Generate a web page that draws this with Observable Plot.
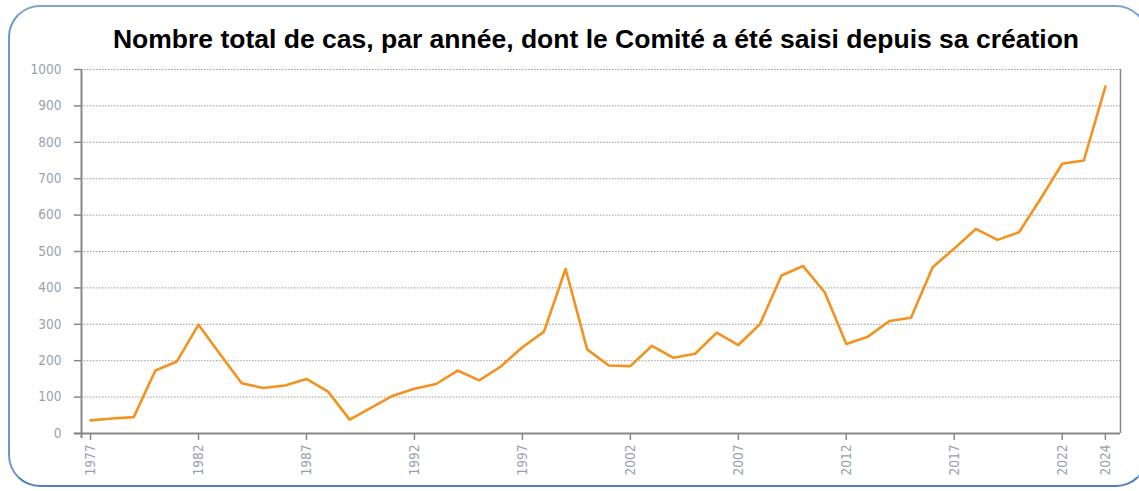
<!DOCTYPE html>
<html>
<head>
<meta charset="utf-8">
<script src="https://cdn.jsdelivr.net/npm/d3@7"></script>
<script src="https://cdn.jsdelivr.net/npm/@observablehq/plot@0.6"></script>
<style>
  html, body { margin: 0; padding: 0; background: #fff; }
  body { width: 1139px; height: 491px; overflow: hidden; position: relative; }
  #frame {
    position: absolute; left: 8px; top: 5px; width: 1140px; height: 482px;
    border: 2px solid #7fa3d0; border-radius: 32px; box-sizing: border-box;
    border-bottom-color: #4f7fbf; border-left-color: #6f96c8;
  }
  #title {
    position: absolute; left: 73px; width: 1046px; top: 26px;
    text-align: center; font-family: "Liberation Sans", Arial, sans-serif;
    font-weight: bold; font-size: 26.5px; line-height: 26.5px; color: #000;
    white-space: nowrap;
  }
  #chart { position: absolute; left: 0; top: 55px; }
</style>
</head>
<body>
<div id="frame"></div>
<div id="title">Nombre total de cas, par année, dont le Comité a été saisi depuis sa création</div>
<div id="chart"></div>
<script>
const years = [1977,1978,1979,1980,1981,1982,1983,1984,1985,1986,1987,1988,1989,1990,1991,1992,1993,1994,1995,1996,1997,1998,1999,2000,2001,2002,2003,2004,2005,2006,2007,2008,2009,2010,2011,2012,2013,2014,2015,2016,2017,2018,2019,2020,2021,2022,2023,2024];
const cases = [36,41,45,173,198,299,218,138,125,132,150,115,38,71,104,123,136,173,146,184,237,280,452,231,187,185,241,208,219,277,243,300,434,460,388,246,266,309,318,457,508,562,532,553,645,741,750,953];
const xTickYears = [1977,1982,1987,1992,1997,2002,2007,2012,2017,2022,2024];
const yTicks = [0,100,200,300,400,500,600,700,800,900,1000];
const xDomain = [1976.58, 2024.7];

const data = years.map((y, i) => ({year: y, value: cases[i]}));

const labelFont = '"Liberation Sans Narrow", "DejaVu Sans Condensed", "Roboto Condensed", sans-serif';

const plot = Plot.plot({
  width: 1139,
  height: 436,
  marginTop: 14,
  marginBottom: 58,
  marginLeft: 81,
  marginRight: 19,
  style: {fontFamily: labelFont, fontSize: "13.5px", color: "#97a1b0", background: "transparent"},
  x: {domain: xDomain, type: "linear"},
  y: {domain: [0, 1000]},
  marks: [
    Plot.gridY(yTicks.filter(d => d > 0), {stroke: "#888", strokeOpacity: 0.85, strokeDasharray: "1.5,1.5", strokeWidth: 1}),
    Plot.axisY(yTicks, {tickSize: 7, tickPadding: 13, stroke: "#888", strokeWidth: 1.5, fill: "#97a1b0", tickFormat: d => String(d), label: null}),
    Plot.axisX(xTickYears, {tickSize: 7, tickPadding: 4, tickRotate: -90, stroke: "#888", strokeWidth: 1.5, fill: "#97a1b0", tickFormat: d => String(d), label: null}),
    Plot.tickX([xDomain[1]], {y1: 0, y2: -20, stroke: "#888", strokeWidth: 1.5}),
    Plot.ruleY([0], {x1: xDomain[0] - 0.33, x2: xDomain[1], stroke: "#888", strokeWidth: 2}),
    Plot.ruleX([xDomain[0]], {y1: -14, y2: 1000, stroke: "#888", strokeWidth: 2}),
    Plot.lineY(data, {x: "year", y: "value", stroke: "#f4921f", strokeWidth: 2.6})
  ]
});
document.getElementById("chart").appendChild(plot);
</script>
</body>
</html>
